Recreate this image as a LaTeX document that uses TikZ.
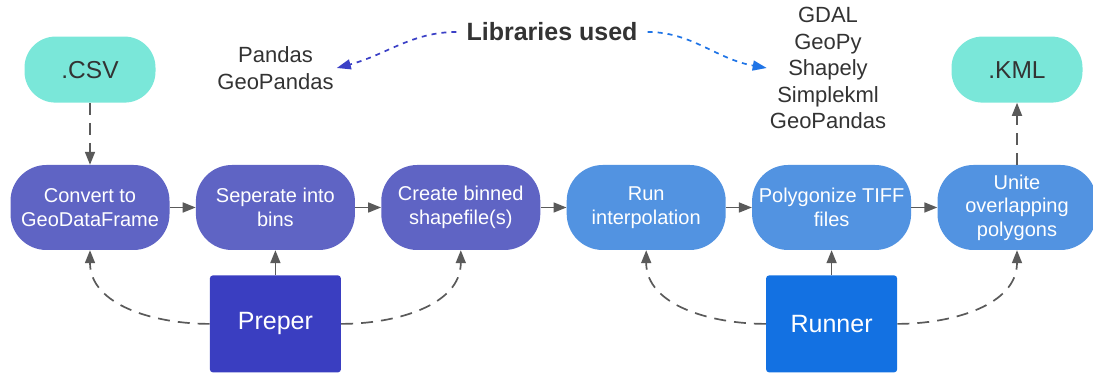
\documentclass[tikz,border=0pt]{standalone}
\usepackage{fontspec}
\setmainfont{Liberation Sans}
\usetikzlibrary{arrows.meta,positioning}
\definecolor{filefill}{HTML}{7AE7D9}
\definecolor{prepfill}{HTML}{5F64C4}
\definecolor{prepmain}{HTML}{3A3EC1}
\definecolor{runfill}{HTML}{5293E1}
\definecolor{runmain}{HTML}{1371E2}
\definecolor{linegray}{HTML}{5A5A5A}
\definecolor{txtgray}{HTML}{333333}
\definecolor{libleft}{HTML}{3B40C6}
\definecolor{libright}{HTML}{1F74E6}

\begin{document}
\begin{tikzpicture}[x=1pt,y=1pt,node distance=26pt,
	  file/.style={rectangle,rounded corners=31pt,fill=filefill,minimum width=131pt,minimum height=66pt,
	    text=txtgray,font=\fontsize{24.5}{28}\selectfont},
	  stepbox/.style={rectangle,rounded corners=36pt,minimum width=159pt,minimum height=85pt,inner sep=2pt,
	    text=white,align=center,font=\fontsize{20}{23.5}\selectfont},
	  prepstep/.style={stepbox,fill=prepfill},
	  runstep/.style={stepbox,fill=runfill},
	  module/.style={rectangle,rounded corners=3pt,minimum width=131pt,minimum height=97pt,
	    text=white,font=\fontsize{25}{30}\selectfont},
	  liblist/.style={align=center,inner sep=3pt,text=txtgray,font=\fontsize{22}{26.5}\selectfont},
	  flow/.style={draw=linegray,line width=1.7pt,-{Triangle[length=13pt,width=10pt]}},
	  calls/.style={flow,dash pattern=on 12pt off 8pt},
	  uses/.style={line width=1.7pt,dash pattern=on 5pt off 5pt,shorten <=7pt,-{Triangle[length=14pt,width=10pt]}}]
	  \useasboundingbox (0,0) rectangle (1093,374);
	  \node[prepstep] (conv) at (90,166.5) {Convert to\\GeoDataFrame};
	  \node[prepstep,right=of conv] (bins) {Seperate into\\bins};
	  \node[prepstep,right=of bins] (shp) {Create binned\\shapefile(s)};
	  \node[runstep,right=of shp] (interp) {Run\\interpolation};
	  \node[runstep,right=of interp] (poly) {Polygonize TIFF\\files};
	  \node[runstep,right=of poly] (unite) {Unite\\overlapping\\polygons};
	  \node[file,above=62pt of conv] (csv) {.CSV};
	  \node[file,above=62pt of unite] (kml) {.KML};
	  \node[module,fill=prepmain,below=25pt of bins] (preper) {Preper};
	  \node[module,fill=runmain,below=25pt of poly] (runner) {Runner};
	  \node[inner sep=3pt,text=txtgray,font=\bfseries\fontsize{25}{30}\selectfont] (libs) at (552,342) {Libraries used};
	  \node[liblist] (pylibs) at (275.5,306) {Pandas\\GeoPandas};
	  \node[liblist] (rlibs) at (828,306) {GDAL\\GeoPy\\Shapely\\Simplekml\\GeoPandas};
	  \draw[flow] (conv) -- (bins);
	  \draw[flow] (bins) -- (shp);
	  \draw[flow] (shp) -- (interp);
	  \draw[flow] (interp) -- (poly);
	  \draw[flow] (poly) -- (unite);
	  \draw[flow] (preper) -- (bins);
	  \draw[flow] (runner) -- (poly);
	  \draw[calls] (csv) -- (conv);
	  \draw[calls] (unite) -- (kml);
	  \draw[calls] (preper.west) to[out=180,in=-90] (conv.south);
	  \draw[calls] (preper.east) to[out=0,in=-90] (shp.south);
	  \draw[calls] (runner.west) to[out=180,in=-90] (interp.south);
	  \draw[calls] (runner.east) to[out=0,in=-90] (unite.south);
	  \draw[uses,draw=libleft] (libs.west) to[out=180,in=15] (pylibs.east);
	  \draw[uses,draw=libright] (libs.east) to[out=0,in=170] (rlibs.west);
	\end{tikzpicture}
\end{document}
